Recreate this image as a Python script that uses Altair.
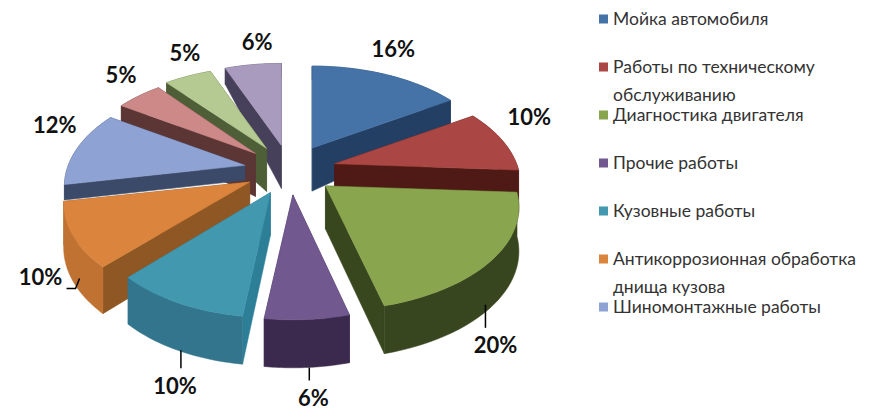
import math
import altair as alt
import pandas as pd

# --- values ---
categories = ["Мойка автомобиля", "Работы по техническому\nобслуживанию", "Диагностика двигателя",
              "Прочие работы", "Кузовные работы", "Антикоррозионная обработка\nднища кузова",
              "Шиномонтажные работы", None, None, None]
shares = [16, 10, 20, 6, 10, 10, 12, 5, 5, 6]
top_colors = ["#4573A7", "#AA4643", "#89A54E", "#71588F", "#4198AF", "#DB843D", "#8FA2D4", "#CC8988", "#B5CA92", "#A99BBD"]
wall_colors = ["#234064", "#4F1A15", "#39471F", "#3B2A4D", "#2D7F98", "#8F5723", "#3A4A68", "#5B3635", "#4E5F38", "#47405B"]
rim_colors = ["#234064", "#4F1A15", "#384620", "#3B2A4D", "#32758C", "#BF7232", "#3A4A68", "#5B3635", "#4E5F38", "#47405B"]
draw_order = [9, 8, 7, 6, 5, 0, 1, 2, 4, 3]

# --- view of the tilted pie ---
CX, CY, RX, RY, PERSP = 290, 170, 182, 99, 0.207
EX, EY = 46, 25
reach = {2: 1.04, 4: 0.97, 6: 0.97, 7: 0.97}
wall_scale = {6: 0.35}
label_push = {0: (7, -24.5), 1: (27, -22), 2: (2, 41), 3: (6, 31.5), 4: (-3, 37), 5: (-32, -2),
              6: (-23, -21.5), 7: (-18, -20), 8: (-3, -22), 9: (4, -21.6)}
leader_shift = {2: (-8, 23), 3: (2, 13), 4: (3, 18)}


def depth(v):
    if v < 0:
        return 43 + 29 * v
    return 43 + 5 * v


rows, labels, leaders = [], [], []
cum = 0
spans = []
for sh in shares:
    spans.append((cum, cum + sh))
    cum += sh
poly = 0


def add(pts, col):
    global poly
    for i, (x, y) in enumerate(pts):
        rows.append(dict(poly=poly, i=i, x=x, y=y, col=col))
    poly += 1


for k in draw_order:
    a0, a1 = spans[k]
    mid = (a0 + a1) / 2 * 2 * math.pi / 100
    ax, ay = CX + EX * math.sin(mid), CY - EY * math.cos(mid)
    wid = reach.get(k, 1)
    ws = wall_scale.get(k, 1)

    def view(u, v):
        s = 1 / (1 - PERSP * v)
        return ax + u * RX * s * wid, ay + v * RY * s

    n = 30
    rim = []
    for j in range(n + 1):
        t = (a0 + (a1 - a0) * j / n) * 2 * math.pi / 100
        u, v = math.sin(t), -math.cos(t)
        x, y = view(u, v)
        rim.append((x, y, depth(v) * ws))
    apex_d = 43 * ws
    add([(ax, ay), (rim[0][0], rim[0][1]), (rim[0][0], rim[0][1] + rim[0][2]), (ax, ay + apex_d)], wall_colors[k])
    add([(ax, ay), (rim[-1][0], rim[-1][1]), (rim[-1][0], rim[-1][1] + rim[-1][2]), (ax, ay + apex_d)], wall_colors[k])
    add([(x, y) for x, y, d in rim] + [(x, y + d) for x, y, d in reversed(rim)], rim_colors[k])
    add([(ax, ay)] + [(x, y) for x, y, d in rim], top_colors[k])
    u, v = math.sin(mid), -math.cos(mid)
    mx, my = view(u, v)
    base = my + depth(v) if v > 0 else my
    dx, dy = label_push[k]
    labels.append(dict(x=mx + dx, y=base + dy, t=f"{shares[k]}%"))
    if k in leader_shift:
        sx, ey = leader_shift[k]
        leaders.append(dict(g=k, i=0, x=mx + sx, y=base))
        leaders.append(dict(g=k, i=1, x=mx + sx, y=base + ey))
    if k == 5:
        lx, ly = mx + dx, base + dy
        for i, (ox, oy) in enumerate([(26, 10), (35, 10), (39, 0)]):
            leaders.append(dict(g=k, i=i, x=lx + ox, y=ly + oy))

df = pd.DataFrame(rows)
X = alt.X("x:Q", scale=alt.Scale(domain=[8, 863]), axis=None)
Y = alt.Y("y:Q", scale=alt.Scale(domain=[411, 8]), axis=None)

polys = alt.Chart(df).mark_line(strokeWidth=0.5, interpolate="linear-closed").encode(
    x=X, y=Y, detail="poly:N", order="i:Q",
    fill=alt.Fill("col:N", scale=None), stroke=alt.Stroke("col:N", scale=None))

lead = alt.Chart(pd.DataFrame(leaders)).mark_line(color="black", strokeWidth=1.5).encode(
    x=X, y=Y, detail="g:N", order="i:Q")

text = alt.Chart(pd.DataFrame(labels)).mark_text(font="Lato", fontSize=22, fontWeight="bold", color="#111").encode(x=X, y=Y, text="t:N")

leg = [dict(name=c, row=i, col=top_colors[i]) for i, c in enumerate(categories) if c]
leg_df = pd.DataFrame(leg)
leg_df["y"] = 19 + leg_df["row"] * 48
leg_df["x"] = 603.5
leg_df["tx"] = 613
leg_df["ty"] = leg_df["y"] + 6
sq = alt.Chart(leg_df).mark_square(size=81, opacity=1).encode(x=X, y=Y, fill=alt.Fill("col:N", scale=None))
lt = alt.Chart(leg_df).mark_text(font="Lato", fontSize=17.5, align="left", baseline="alphabetic", lineBreak="\n", lineHeight=28, color="#333").encode(
    x=alt.X("tx:Q", scale=alt.Scale(domain=[8, 863]), axis=None),
    y=alt.Y("ty:Q", scale=alt.Scale(domain=[411, 8]), axis=None), text="name:N")

chart = (polys + lead + text + sq + lt).properties(
    width=855, height=403, padding=0, autosize=alt.AutoSizeParams(type="none"), background="white"
).configure_view(stroke=None)
chart.save("out.html", embed_options={"renderer": "svg", "actions": False})
